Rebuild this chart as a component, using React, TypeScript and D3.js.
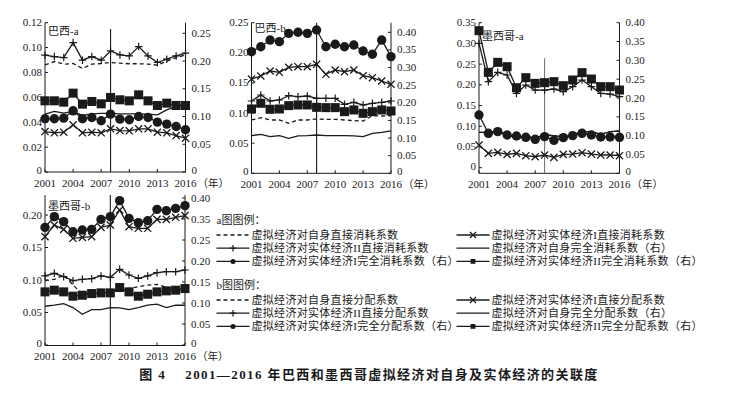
import React from "react";
import * as d3 from "d3";

const years = [2001, 2002, 2003, 2004, 2005, 2006, 2007, 2008, 2009, 2010, 2011, 2012, 2013, 2014, 2015, 2016];
const yearTicks = [2001, 2004, 2007, 2010, 2013, 2016];
const crisisYear = 2008;

// 巴西-a
const brA_selfDirect = [0.0861, 0.0888, 0.0867, 0.0872, 0.0832, 0.0867, 0.0872, 0.088, 0.0875, 0.087, 0.087, 0.0867, 0.0859, 0.089, 0.092, 0.094];
const brA_realIDirect = [0.0325, 0.0315, 0.032, 0.0379, 0.0315, 0.032, 0.0315, 0.0347, 0.0333, 0.0331, 0.0347, 0.0347, 0.032, 0.0315, 0.0293, 0.0272];
const brA_realIIDirect = [0.0939, 0.0928, 0.092, 0.104, 0.0899, 0.0928, 0.0899, 0.0973, 0.0941, 0.0933, 0.1008, 0.0933, 0.088, 0.0907, 0.0933, 0.0955];
const brA_selfTotal = [0.1043, 0.1091, 0.1061, 0.1091, 0.1019, 0.1049, 0.1055, 0.1055, 0.1049, 0.1049, 0.1049, 0.1043, 0.1031, 0.1121, 0.1181, 0.1211];
const brA_realITotal = [0.0959, 0.0959, 0.0971, 0.1103, 0.0959, 0.0983, 0.0923, 0.1043, 0.0953, 0.0941, 0.1001, 0.0983, 0.0899, 0.0863, 0.0821, 0.0761];
const brA_realIITotal = [0.1283, 0.1283, 0.1259, 0.1421, 0.1223, 0.1271, 0.1229, 0.1343, 0.1301, 0.1283, 0.1391, 0.1283, 0.1199, 0.1241, 0.1199, 0.1199];

// 巴西-b
const brB_selfDirect = [0.0885, 0.0924, 0.0885, 0.0885, 0.083, 0.0885, 0.0885, 0.0902, 0.0896, 0.0896, 0.0885, 0.0874, 0.0868, 0.0957, 0.0951, 0.0957];
const brB_realIDirect = [0.1565, 0.1615, 0.1698, 0.1676, 0.1759, 0.177, 0.177, 0.1809, 0.1643, 0.1715, 0.1687, 0.1715, 0.162, 0.1587, 0.1532, 0.1477];
const brB_realIIDirect = [0.12, 0.13, 0.12, 0.1217, 0.1289, 0.1272, 0.1283, 0.1244, 0.1244, 0.1244, 0.1145, 0.1178, 0.1134, 0.1161, 0.1178, 0.12];
const brB_selfTotal = [0.1069, 0.1106, 0.104, 0.1069, 0.0993, 0.1059, 0.1069, 0.1087, 0.1069, 0.1069, 0.1069, 0.1059, 0.104, 0.1135, 0.1163, 0.1201];
const brB_realITotal = [0.345, 0.359, 0.378, 0.3735, 0.397, 0.4, 0.397, 0.4066, 0.359, 0.366, 0.359, 0.364, 0.347, 0.3376, 0.378, 0.331];
const brB_realIITotal = [0.1825, 0.1986, 0.1816, 0.1825, 0.192, 0.1939, 0.1939, 0.1872, 0.1863, 0.1863, 0.1749, 0.1797, 0.1702, 0.1749, 0.1797, 0.1768];

// 墨西哥-a
const mxA_selfDirect = [0.0853, 0.0853, 0.0885, 0.0805, 0.0708, 0.0748, 0.0724, 0.0788, 0.0772, 0.074, 0.0788, 0.0869, 0.0869, 0.0805, 0.0869, 0.0885];
const mxA_realIDirect = [0.0547, 0.0346, 0.037, 0.0322, 0.0346, 0.029, 0.0265, 0.0306, 0.0249, 0.0322, 0.033, 0.0362, 0.033, 0.0306, 0.0306, 0.029];
const mxA_realIIDirect = [0.3001, 0.2076, 0.2301, 0.2237, 0.1794, 0.1995, 0.1874, 0.1874, 0.1899, 0.1834, 0.1955, 0.2116, 0.1955, 0.1794, 0.1778, 0.1714];
const mxA_selfTotal = [0.1088, 0.1088, 0.1124, 0.1035, 0.0929, 0.0973, 0.0947, 0.1018, 0.1, 0.0965, 0.1018, 0.1106, 0.1106, 0.1035, 0.1106, 0.1124];
const mxA_realITotal = [0.1549, 0.1062, 0.1106, 0.1018, 0.0991, 0.0956, 0.0903, 0.0973, 0.0876, 0.0947, 0.1, 0.1062, 0.1018, 0.0965, 0.0965, 0.0956];
const mxA_realIITotal = [0.3788, 0.2681, 0.2947, 0.2832, 0.2274, 0.254, 0.2389, 0.2407, 0.2434, 0.2327, 0.2478, 0.2673, 0.2504, 0.2301, 0.2301, 0.2212];

// 墨西哥-b
const mxB_selfDirect = [0.099, 0.101, 0.1077, 0.0923, 0.0785, 0.0795, 0.0805, 0.0821, 0.0846, 0.0872, 0.0897, 0.0921, 0.0933, 0.0887, 0.0856, 0.0856];
const mxB_realIDirect = [0.1667, 0.1846, 0.1779, 0.1641, 0.1656, 0.1667, 0.181, 0.1846, 0.2077, 0.182, 0.1795, 0.1795, 0.1933, 0.1933, 0.1964, 0.199];
const mxB_realIIDirect = [0.1062, 0.1103, 0.1051, 0.099, 0.101, 0.1021, 0.1062, 0.1041, 0.1164, 0.1077, 0.1026, 0.1062, 0.1113, 0.1128, 0.1128, 0.1154];
const mxB_selfTotal = [0.0923, 0.0947, 0.0986, 0.0891, 0.0732, 0.0843, 0.0843, 0.0891, 0.0883, 0.0843, 0.0891, 0.0947, 0.0971, 0.0891, 0.0947, 0.0947];
const mxB_realITotal = [0.28, 0.3055, 0.2936, 0.2697, 0.2737, 0.2753, 0.2991, 0.3055, 0.3437, 0.3015, 0.2912, 0.2959, 0.323, 0.3198, 0.3254, 0.3317];
const mxB_realIITotal = [0.1265, 0.1305, 0.1265, 0.1162, 0.1185, 0.1225, 0.1241, 0.1241, 0.1368, 0.1265, 0.1162, 0.1209, 0.1265, 0.1289, 0.1305, 0.1344];

// axis ticks
const brA_leftTicks = [0, 0.02, 0.04, 0.06, 0.08, 0.1, 0.12];
const brA_rightTicks = [0, 0.05, 0.1, 0.15, 0.2, 0.25];
const brB_leftTicks = [0, 0.05, 0.1, 0.15, 0.2, 0.25];
const brB_rightTicks = [0, 0.05, 0.1, 0.15, 0.2, 0.25, 0.3, 0.35, 0.4];
const mxA_leftTicks = [0, 0.05, 0.1, 0.15, 0.2, 0.25, 0.3, 0.35];
const mxA_rightTicks = [0, 0.05, 0.1, 0.15, 0.2, 0.25, 0.3, 0.35, 0.4];
const mxB_leftTicks = [0, 0.05, 0.1, 0.15, 0.2];
const mxB_rightTicks = [0, 0.05, 0.1, 0.15, 0.2, 0.25, 0.3, 0.35];
// the printed figure skips 0.30 on this axis
const mxB_rightLabels = ["0", "0.05", "0.10", "0.15", "0.20", "0.25", "0.35", "0.40"];

const kinds = ["dashed", "x", "plus", "solid", "circle", "square"];
const legendA = [
  "虚拟经济对自身直接消耗系数",
  "虚拟经济对实体经济I直接消耗系数",
  "虚拟经济对实体经济II直接消耗系数",
  "虚拟经济对自身完全消耗系数（右）",
  "虚拟经济对实体经济I完全消耗系数（右）",
  "虚拟经济对实体经济II完全消耗系数（右）",
];
const legendB = [
  "虚拟经济对自身直接分配系数",
  "虚拟经济对实体经济I直接分配系数",
  "虚拟经济对实体经济II直接分配系数",
  "虚拟经济对自身完全分配系数（右）",
  "虚拟经济对实体经济I完全分配系数（右）",
  "虚拟经济对实体经济II完全分配系数（右）",
];

const FONT = "'Liberation Serif', 'Noto Sans CJK SC', serif";
const INK = "#1a1a1a";
const fmt = (v: number) => (v === 0 ? "0" : d3.format(".2f")(v));

const panels = [
  {
    title: "巴西-a", x0: 45, x1: 185.5, yT: 22.7, yB: 172, lineTop: 29, lineColor: INK,
    left: { domain: [0, 0.12], range: [172, 22.7], ticks: brA_leftTicks },
    right: { domain: [0, 0.25], range: [172, 33.3], ticks: brA_rightTicks },
    series: [brA_selfDirect, brA_realIDirect, brA_realIIDirect, brA_selfTotal, brA_realITotal, brA_realIITotal],
    titleY: 35,
  },
  {
    title: "巴西-b", x0: 251.5, x1: 391, yT: 22.7, yB: 173.3, lineTop: 22.7, lineColor: INK,
    left: { domain: [0, 0.25], range: [173.3, 22.7], ticks: brB_leftTicks },
    right: { domain: [0, 0.4], range: [173.3, 32.3], ticks: brB_rightTicks },
    series: [brB_selfDirect, brB_realIDirect, brB_realIIDirect, brB_selfTotal, brB_realITotal, brB_realIITotal],
    titleY: 32,
  },
  {
    title: "墨西哥-a", x0: 479, x1: 619.5, yT: 22.7, yB: 173.3, lineTop: 58.3, lineColor: "#777",
    left: { domain: [0, 0.35], range: [167.7, 22.7], ticks: mxA_leftTicks },
    right: { domain: [0, 0.4], range: [173.3, 22.7], ticks: mxA_rightTicks },
    series: [mxA_selfDirect, mxA_realIDirect, mxA_realIIDirect, mxA_selfTotal, mxA_realITotal, mxA_realIITotal],
    titleY: 40,
  },
  {
    title: "墨西哥-b", x0: 45, x1: 185, yT: 195, yB: 345.5, lineTop: 195, lineColor: INK,
    left: { domain: [0, 0.2], range: [345, 215], ticks: mxB_leftTicks },
    right: { domain: [0, 0.35], range: [345, 198], ticks: mxB_rightTicks, labels: mxB_rightLabels },
    series: [mxB_selfDirect, mxB_realIDirect, mxB_realIIDirect, mxB_selfTotal, mxB_realITotal, mxB_realIITotal],
    titleY: 210,
  },
];

function Marker({ kind, x, y, s }: { kind: string; x: number; y: number; s: number }) {
  if (kind === "circle") return <circle cx={x} cy={y} r={s * 0.5} fill={INK} />;
  if (kind === "square") return <rect x={x - s * 0.48} y={y - s * 0.48} width={s * 0.96} height={s * 0.96} fill={INK} />;
  if (kind === "x") {
    const h = s * 0.38;
    return (
      <path d={`M${x - h},${y - h}L${x + h},${y + h}M${x - h},${y + h}L${x + h},${y - h}`} stroke={INK} strokeWidth={1.3} />
    );
  }
  if (kind === "plus") {
    const h = s * 0.4;
    return <path d={`M${x},${y - h}L${x},${y + h}M${x - h},${y}L${x + h},${y}`} stroke={INK} strokeWidth={1.2} />;
  }
  return null;
}

function Panel({ p }: { p: (typeof panels)[number] }) {
  const x = d3.scaleLinear().domain([years[0], years[years.length - 1]]).range([p.x0, p.x1]);
  const yl = d3.scaleLinear().domain(p.left.domain).range(p.left.range);
  const yr = d3.scaleLinear().domain(p.right.domain).range(p.right.range);
  return (
    <g>
      {/* axes frame */}
      <line x1={p.x0} x2={p.x0} y1={p.yT} y2={p.yB} stroke={INK} strokeWidth={1} />
      <line x1={p.x1} x2={p.x1} y1={p.yT} y2={p.yB} stroke={INK} strokeWidth={1} />
      <line x1={p.x0} x2={p.x1} y1={p.yB} y2={p.yB} stroke={INK} strokeWidth={1} />
      {p.left.ticks.map((t) => (
        <g key={"l" + t}>
          <line x1={p.x0} x2={p.x0 + 3} y1={yl(t)} y2={yl(t)} stroke={INK} />
          <text x={p.x0 - 3} y={yl(t) + (t === 0 ? 2 : 3.5)} textAnchor="end" fontSize={11}>{fmt(t)}</text>
        </g>
      ))}
      {p.right.ticks.map((t, i) => (
        <g key={"r" + t}>
          <line x1={p.x1} x2={p.x1 - 3} y1={yr(t)} y2={yr(t)} stroke={INK} />
          <text x={p.x1 + 6} y={yr(t) + (t === 0 ? 2 : 3.5)} textAnchor="start" fontSize={11}>
            {p.right.labels ? p.right.labels[i] : fmt(t)}
          </text>
        </g>
      ))}
      {yearTicks.map((t) => (
        <g key={"x" + t}>
          <line x1={x(t)} x2={x(t)} y1={p.yB} y2={p.yB - 3} stroke={INK} />
          <text x={x(t)} y={p.yB + 14.5} textAnchor="middle" fontSize={11}>{t}</text>
        </g>
      ))}
      <text x={p.x1 + 12} y={p.yB + 14.5} fontSize={10.5}>（年）</text>
      <line x1={x(crisisYear)} x2={x(crisisYear)} y1={p.lineTop} y2={p.yB} stroke={p.lineColor} strokeWidth={1.1} />
      {p.series.map((vals, si) => {
        const kind = kinds[si];
        const ys = si < 3 ? yl : yr;
        const gen = d3
          .line<number>()
          .x((_, i) => x(years[i]))
          .y((v) => ys(v));
        return (
          <g key={si}>
            <path
              d={gen(vals) || ""}
              fill="none"
              stroke={INK}
              strokeWidth={1.3}
              strokeDasharray={kind === "dashed" ? "4 3" : undefined}
            />
            {vals.map((v, i) => (
              <Marker key={i} kind={kind} x={x(years[i])} y={ys(v)} s={9.4} />
            ))}
          </g>
        );
      })}
      <text x={p.x0 + 3} y={p.titleY} fontSize={11}>{p.title}</text>
    </g>
  );
}

function Legend({ title, labels, y0 }: { title: string; labels: string[]; y0: number }) {
  const cols = [216.5, 456.5];
  const rowGap = 13.2;
  return (
    <g>
      <text x={216.5} y={y0 + 4} fontSize={11}>{title}</text>
      {labels.map((lab, i) => {
        const row = Math.floor(i / 2);
        const col = i % 2;
        const cy = y0 + 15 + row * rowGap;
        const sx = cols[col];
        const kind = kinds[i];
        return (
          <g key={i}>
            <line
              x1={sx}
              x2={sx + 33}
              y1={cy}
              y2={cy}
              stroke={INK}
              strokeWidth={1.3}
              strokeDasharray={kind === "dashed" ? "4 3" : undefined}
            />
            <Marker kind={kind} x={sx + 16.5} y={cy} s={kind === "x" || kind === "plus" ? 8 : 5} />
            <text x={sx + 35} y={cy + 4} fontSize={11} letterSpacing={0.3}>{lab}</text>
          </g>
        );
      })}
    </g>
  );
}

export default function App() {
  return (
    <svg
      width={734}
      height={394}
      style={{ position: "absolute", left: 0, top: 0, background: "#fff", fontFamily: FONT }}
      fill={INK}
    >
      {panels.map((p) => (
        <Panel key={p.title} p={p} />
      ))}
      <Legend title="a图图例：" labels={legendA} y0={220} />
      <Legend title="b图图例：" labels={legendB} y0={285} />
      <text x={369} y={379} textAnchor="middle" fontSize={13} fontWeight="bold" letterSpacing={1.4}>
        图 4　 2001—2016 年巴西和墨西哥虚拟经济对自身及实体经济的关联度
      </text>
    </svg>
  );
}
